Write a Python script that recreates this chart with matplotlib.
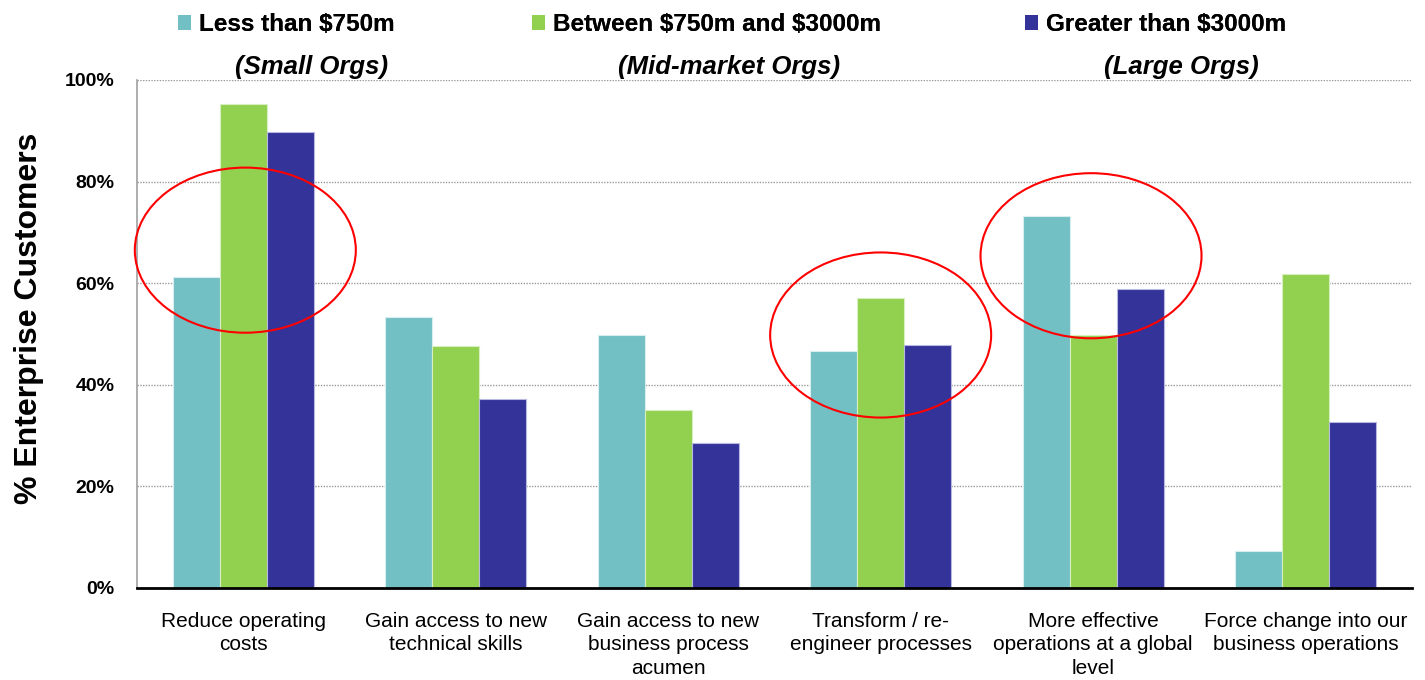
import numpy as np
import matplotlib
matplotlib.use("Agg")
import matplotlib.pyplot as plt
from matplotlib.patches import Patch, Ellipse
from matplotlib.ticker import FuncFormatter

# data
categories = ["Reduce operating\ncosts",
              "Gain access to new\ntechnical skills",
              "Gain access to new\nbusiness process\nacumen",
              "Transform / re-\nengineer processes",
              "More effective\noperations at a global\nlevel",
              "Force change into our\nbusiness operations"]
series_names = ["Less than \\$750m", "Between \\$750m and \\$3000m", "Greater than \\$3000m"]
small_orgs = [61.2, 53.3, 49.8, 46.7, 73.2, 7.3]
mid_orgs = [95.3, 47.6, 35.0, 57.1, 49.8, 61.8]
large_orgs = [89.8, 37.2, 28.5, 47.8, 58.9, 32.7]
subtitles = ["(Small Orgs)", "(Mid-market Orgs)", "(Large Orgs)"]

colors = ["#72BFC4", "#92D050", "#333399"]
edges = ["#D8EEEF", "#D6F0BE", "#B8B8E0"]

plt.rcParams['font.family'] = ["Liberation Sans", "DejaVu Sans"]

fig = plt.figure(figsize=(14.25, 6.8), dpi=100)
ax = fig.add_axes([0.0961, 0.1353, 0.8947, 0.7471])

x = np.arange(len(categories))
w = 0.221
for i, vals in enumerate([small_orgs, mid_orgs, large_orgs]):
    ax.bar(x + (i - 1) * w, vals, width=w, color=colors[i], edgecolor=edges[i],
           linewidth=0.8, zorder=2)

# red circles highlighting groups
for cx, cy in [(0.01, 66.5), (3.0, 49.8), (3.99, 65.4)]:
    e = Ellipse((cx, cy), 1.04, 32.5, fill=False, edgecolor="red", linewidth=1.5,
                zorder=5, clip_on=False)
    ax.add_patch(e)

ax.set_xlim(-0.5, 5.5)
ax.set_ylim(0, 100)
ax.set_yticks(np.arange(0, 101, 20))
ax.yaxis.set_major_formatter(FuncFormatter(lambda v, p: "%d%%" % v))
ax.set_xticks(x)
ax.set_xticklabels(categories, fontsize=15, linespacing=1.32)
for lab in ax.get_yticklabels():
    lab.set_fontweight("bold")
    lab.set_fontsize(14)
ax.tick_params(axis="x", length=0, pad=17)
ax.tick_params(axis="y", length=0, pad=16)

ax.set_axisbelow(True)
ax.grid(axis="y", color="#9A9A9A", linestyle=(0, (1, 1)), linewidth=1.0)
ax.spines["top"].set_visible(False)
ax.spines["right"].set_visible(False)
ax.spines["left"].set_color("#A0A0A0")
ax.spines["left"].set_linewidth(1.2)
ax.spines["bottom"].set_color("black")
ax.spines["bottom"].set_linewidth(2)

ax.set_ylabel("% Enterprise Customers", fontsize=23, fontweight="bold")
ax.yaxis.set_label_coords(-0.073, 0.53)

# legend entries placed separately like the original slide
leg_x = [178 / 1425, 532 / 1425, 1025 / 1425]
for i in range(3):
    lg = fig.legend(handles=[Patch(facecolor=colors[i], edgecolor="none")],
                    labels=[series_names[i]], loc="center left",
                    bbox_to_anchor=(leg_x[i], 0.964), frameon=False,
                    borderpad=0, borderaxespad=0, handlelength=0.53,
                    handleheight=0.58, handletextpad=0.33,
                    prop={"weight": "bold", "size": 17.5})
    fig.add_artist(lg)

sub_x = [312 / 1425, 729 / 1425, 1181 / 1425]
for sx, s in zip(sub_x, subtitles):
    fig.text(sx, 0.901, s, ha="center", va="center", fontsize=18.5,
             fontweight="bold", fontstyle="italic")

fig.savefig("out.png", dpi=100)
